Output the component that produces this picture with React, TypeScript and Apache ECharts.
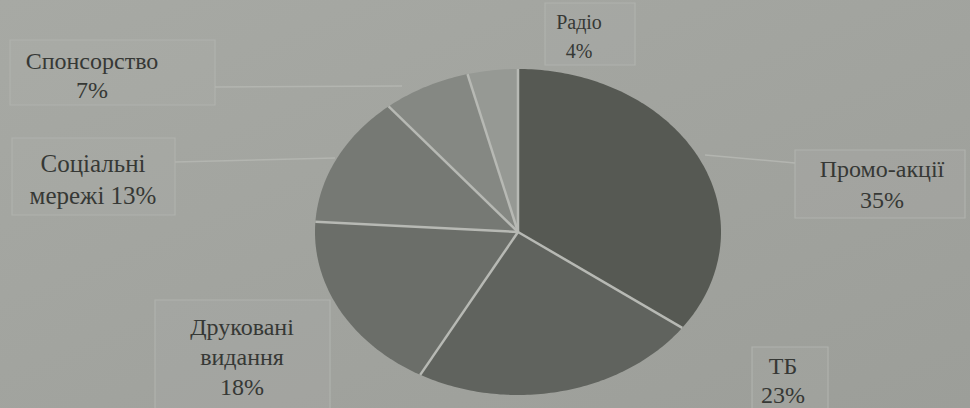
import React, { useEffect, useRef } from "react";
import * as echarts from "echarts";

const categories = ["Промо-акції", "ТБ", "Друковані видання", "Соціальні мережі", "Спонсорство", "Радіо"];
const values = [35, 23, 18, 13, 7, 4];
const labelTexts = ["Промо-акції\n35%", "ТБ\n23%", "Друковані\nвидання\n18%", "Соціальні\nмережі 13%", "Спонсорство\n7%", "Радіо\n4%"];

const sliceColors = ["#565953", "#60635e", "#6b6e69", "#767974", "#858883", "#969994"];
// label layout: text centre and box [x, y, w, h]
const labelLayout = [
  { cx: 882, cy: 184, box: [795, 150, 170, 68], size: 24, lh: 31 },
  { cx: 783, cy: 380, box: [752, 347, 76, 70], size: 24, lh: 29 },
  { cx: 242, cy: 357, box: [155, 300, 175, 115], size: 24, lh: 30 },
  { cx: 93, cy: 179, box: [12, 138, 163, 77], size: 25, lh: 32 },
  { cx: 92, cy: 75, box: [10, 40, 205, 65], size: 24, lh: 29 },
  { cx: 579, cy: 36, box: [545, 3, 90, 62], size: 20, lh: 29 },
];
const leaderLines = [
  [[795, 163], [705, 155]],
  [[175, 162], [335, 158]],
  [[215, 87], [402, 86]],
];

const CX = 518, CY = 232, RX = 203, RY = 163;

export default function App() {
  const ref = useRef<HTMLDivElement>(null);
  useEffect(() => {
    if (!ref.current) return;
    const chart = echarts.init(ref.current, null, { renderer: "svg" });
    const total = values.reduce((a, b) => a + b, 0);
    const starts: number[] = [];
    let acc = 0;
    values.forEach((v) => { starts.push(acc); acc += v; });

    const graphics: any[] = [];
    labelLayout.forEach((l, i) => {
      graphics.push({
        type: "rect",
        shape: { x: l.box[0], y: l.box[1], width: l.box[2], height: l.box[3] },
        style: { fill: "rgba(255,255,255,0.03)", stroke: "#b0b2ad", lineWidth: 1.2 },
        z: 1,
      });
      graphics.push({
        type: "text",
        x: l.cx,
        y: l.cy,
        style: {
          text: labelTexts[i],
          fill: "#363835",
          fontFamily: "'Liberation Serif', 'Times New Roman', 'DejaVu Serif', serif",
          fontSize: l.size,
          align: "center",
          verticalAlign: "middle",
          lineHeight: l.lh,
        },
        z: 3,
      });
    });
    leaderLines.forEach((ln) => {
      graphics.push({
        type: "line",
        shape: { x1: ln[0][0], y1: ln[0][1], x2: ln[1][0], y2: ln[1][1] },
        style: { stroke: "#b3b5b0", lineWidth: 1.5 },
        z: 1,
      });
    });

    chart.setOption({
      animation: false,
      backgroundColor: {
        type: "linear", x: 0, y: 0, x2: 1, y2: 1,
        colorStops: [
          { offset: 0, color: "#a7a9a4" },
          { offset: 1, color: "#9c9e99" },
        ],
      },
      graphic: graphics,
      series: [
        {
          type: "custom",
          coordinateSystem: "none",
          data: values.map((v, i) => ({ name: categories[i], value: v })),
          renderItem: (params: any, api: any) => {
            const i = params.dataIndex;
            const a0 = (starts[i] / total) * Math.PI * 2;
            const a1 = ((starts[i] + values[i]) / total) * Math.PI * 2;
            const n = Math.max(6, Math.ceil((a1 - a0) * 60));
            const pts: number[][] = [[CX, CY]];
            for (let k = 0; k <= n; k++) {
              const t = a0 + ((a1 - a0) * k) / n;
              pts.push([CX + RX * Math.sin(t), CY - RY * Math.cos(t)]);
            }
            const sx = CX + RX * Math.sin(a0);
            const sy = CY - RY * Math.cos(a0);
            return {
              type: "group",
              children: [
                { type: "polygon", shape: { points: pts }, style: { fill: sliceColors[i] } },
                {
                  type: "line",
                  shape: { x1: CX, y1: CY, x2: sx, y2: sy },
                  style: { stroke: "#b7b9b4", lineWidth: 2.5 },
                  z2: 10,
                },
              ],
            };
          },
        },
      ],
    });
    return () => chart.dispose();
  }, []);
  return <div ref={ref} style={{ position: "absolute", left: 0, top: 0, width: 970, height: 408 }} />;
}
